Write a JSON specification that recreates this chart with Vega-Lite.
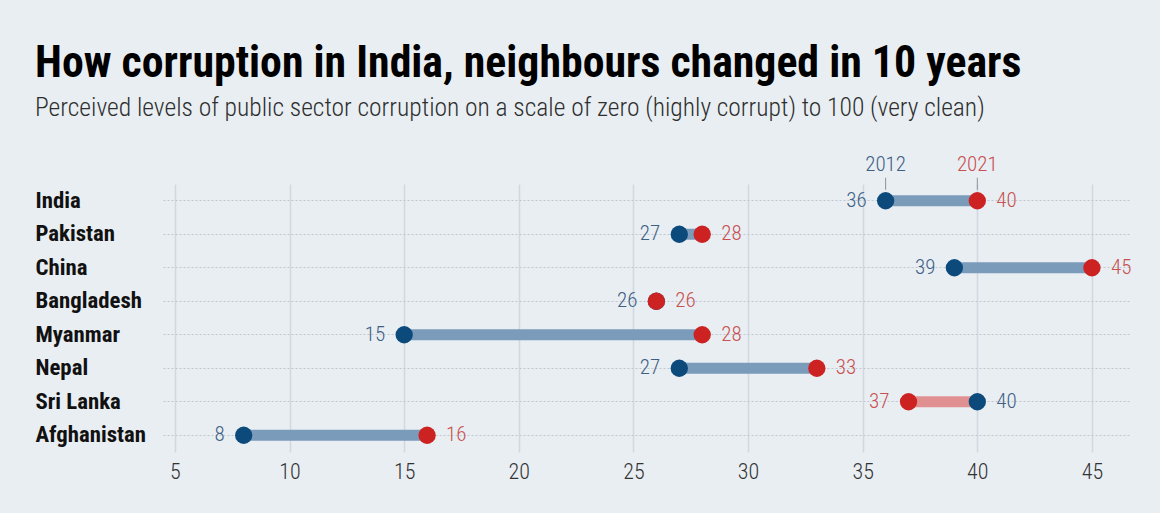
{
  "$schema": "https://vega.github.io/schema/vega-lite/v6.json",
  "width": 967,
  "height": 268,
  "autosize": {"type": "none"},
  "padding": {"left": 163, "top": 184, "right": 30, "bottom": 61},
  "background": "#e9eef3",
  "title": {
    "text": "How corruption in India, neighbours changed in 10 years",
    "subtitle": "Perceived levels of public sector corruption on a scale of zero (highly corrupt) to 100 (very clean)",
    "anchor": "start",
    "font": "Liberation Sans Narrow, Roboto Condensed, Arial Narrow, sans-serif",
    "fontSize": 43.8,
    "fontWeight": "bold",
    "color": "#000000",
    "subtitleFont": "Liberation Sans Narrow, Roboto Condensed, Arial Narrow, sans-serif",
    "subtitleFontSize": 25.5,
    "subtitleFontWeight": 300,
    "subtitleColor": "#2e2e2e",
    "subtitlePadding": 10,
    "offset": 32
  },
  "config": {
    "view": {"stroke": null},
    "font": "Liberation Sans Narrow, Roboto Condensed, Arial Narrow, sans-serif"
  },
  "data": {
    "values": [
      {"country": "India", "y2012": 36, "y2021": 40},
      {"country": "Pakistan", "y2012": 27, "y2021": 28},
      {"country": "China", "y2012": 39, "y2021": 45},
      {"country": "Bangladesh", "y2012": 26, "y2021": 26},
      {"country": "Myanmar", "y2012": 15, "y2021": 28},
      {"country": "Nepal", "y2012": 27, "y2021": 33},
      {"country": "Sri Lanka", "y2012": 40, "y2021": 37},
      {"country": "Afghanistan", "y2012": 8, "y2021": 16}
    ]
  },
  "transform": [
    {"calculate": "min(datum.y2012, datum.y2021)", "as": "lo"},
    {"calculate": "max(datum.y2012, datum.y2021)", "as": "hi"}
  ],
  "encoding": {
    "y": {
      "field": "country",
      "type": "nominal",
      "sort": null,
      "scale": {"paddingInner": 0, "paddingOuter": 0},
      "axis": {
        "title": null,
        "domain": false,
        "ticks": false,
        "labelAlign": "left",
        "labelPadding": 128,
        "labelFontSize": 22.8,
        "labelFontWeight": "bold",
        "labelColor": "#111111",
        "grid": true,
        "gridDash": [2, 2],
        "gridColor": "#bfc6ce",
        "gridWidth": 1,
        "bandPosition": 0.5
      }
    }
  },
  "layer": [
    {
      "mark": {"type": "rule", "strokeWidth": 11, "strokeCap": "butt"},
      "encoding": {
        "x": {
          "field": "y2012",
          "type": "quantitative",
          "scale": {"domain": [4.48, 46.66], "nice": false, "zero": false},
          "axis": {
            "title": null,
            "values": [5, 10, 15, 20, 25, 30, 35, 40, 45],
            "domain": false,
            "ticks": false,
            "grid": true,
            "gridColor": "#d3d8de",
            "gridWidth": 1.5,
            "labelFontSize": 22,
            "labelFontWeight": 300,
            "labelColor": "#333333",
            "labelPadding": 9
          }
        },
        "x2": {"field": "y2021"},
        "color": {
          "condition": {"test": "datum.y2021 < datum.y2012", "value": "#e09091"},
          "value": "#7b9bbb"
        }
      }
    },
    {
      "transform": [{"filter": "datum.country == 'India'"}],
      "mark": {"type": "rule", "color": "#8a949e", "strokeWidth": 1, "yOffset": -23, "y2Offset": -11},
      "encoding": {
        "x": {"field": "y2012", "type": "quantitative"},
        "y2": {"field": "country"}
      }
    },
    {
      "transform": [{"filter": "datum.country == 'India'"}],
      "mark": {"type": "rule", "color": "#8a949e", "strokeWidth": 1, "yOffset": -23, "y2Offset": -11},
      "encoding": {
        "x": {"field": "y2021", "type": "quantitative"},
        "y2": {"field": "country"}
      }
    },
    {
      "mark": {"type": "circle", "size": 300, "opacity": 1, "color": "#0d4a7c"},
      "encoding": {"x": {"field": "y2012", "type": "quantitative"}}
    },
    {
      "mark": {"type": "circle", "size": 300, "opacity": 1, "color": "#cc2222"},
      "encoding": {"x": {"field": "y2021", "type": "quantitative"}}
    },
    {
      "mark": {"type": "text", "align": "right", "baseline": "middle", "dx": -19, "fontSize": 21, "fontWeight": 300},
      "encoding": {
        "x": {"field": "lo", "type": "quantitative"},
        "text": {"field": "lo", "type": "quantitative"},
        "color": {
          "condition": {"test": "datum.y2021 < datum.y2012", "value": "#c8504f"},
          "value": "#3f5f84"
        }
      }
    },
    {
      "mark": {"type": "text", "align": "left", "baseline": "middle", "dx": 19, "fontSize": 21, "fontWeight": 300},
      "encoding": {
        "x": {"field": "hi", "type": "quantitative"},
        "text": {"field": "hi", "type": "quantitative"},
        "color": {
          "condition": {"test": "datum.y2021 < datum.y2012", "value": "#3f5f84"},
          "value": "#c8504f"
        }
      }
    },
    {
      "transform": [{"filter": "datum.country == 'India'"}],
      "mark": {"type": "text", "align": "center", "baseline": "middle", "dy": -36, "fontSize": 21, "fontWeight": 300, "color": "#3f5f84"},
      "encoding": {
        "x": {"field": "y2012", "type": "quantitative"},
        "text": {"value": "2012"}
      }
    },
    {
      "transform": [{"filter": "datum.country == 'India'"}],
      "mark": {"type": "text", "align": "center", "baseline": "middle", "dy": -36, "fontSize": 21, "fontWeight": 300, "color": "#c8504f"},
      "encoding": {
        "x": {"field": "y2021", "type": "quantitative"},
        "text": {"value": "2021"}
      }
    }
  ]
}
